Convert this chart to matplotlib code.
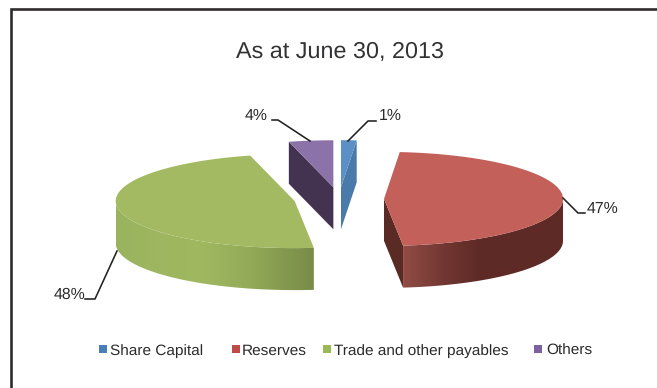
import numpy as np
import matplotlib
matplotlib.use("Agg")
import matplotlib.pyplot as plt
from matplotlib.patches import Polygon, Rectangle
from matplotlib.colors import LinearSegmentedColormap

plt.rcParams['font.family'] = ['Liberation Sans', 'DejaVu Sans']
plt.rcParams['text.hinting'] = 'none'

# Shares of equity and liabilities, per cent
categories = ["Share Capital", "Reserves", "Trade and other payables", "Others"]
shares = [1.4, 46.9, 47.7, 4.0]
title = "As at June 30, 2013"

top_colors = ["#5b8fc6", "#c4605a", "#a3ba62", "#8b72a8"]
wall_colors = ["#4a7aa9", "#5b2a25", "#a3ba62", "#443350"]
legend_colors = ["#4a7ebb", "#be4b48", "#98b954", "#7d60a0"]
TEXT = "#2b2b2d"

W, H = 657, 388
CX, CY = 339.0, 199.0     # pie centre on the canvas
RX, RY = 179.0, 47.0      # ellipse radii of the tilted disc
DEPTH = 42.0              # height of the extruded wall
EXPLODE = 45.0            # radial offset of each slice

fig = plt.figure(figsize=(W / 100, H / 100), dpi=100)
ax = fig.add_axes([0, 0, 1, 1])
ax.set_xlim(0, W)
ax.set_ylim(H, 0)
ax.axis("off")

# Frame of the panel: it runs off the canvas at the right and at the bottom
ax.plot([10.5, 10.5, W + 2], [H + 2, 8.5, 8.5], color="#2e2c2d", lw=1.9,
        solid_joinstyle="miter", zorder=1)


def arc(centre, a0, a1, n=120):
    t = np.radians(np.linspace(a0, a1, n))
    return np.column_stack([centre[0] + RX * np.sin(t), centre[1] - RY * np.cos(t)])


def shaded_wall(points, x_stops, colours, z):
    """Fill a polygon with a horizontal gradient."""
    x0, x1 = x_stops[0], x_stops[-1]
    pos = [(x - x0) / (x1 - x0) for x in x_stops]
    cmap = LinearSegmentedColormap.from_list("wall", list(zip(pos, colours)))
    img = ax.imshow(np.linspace(0, 1, 400)[None, :], cmap=cmap, aspect="auto",
                    extent=[x0, x1, H, 0], zorder=z)
    clip = Polygon(points, closed=True, transform=ax.transData, fc="none", ec="none")
    ax.add_patch(clip)
    img.set_clip_path(clip)


# Slice angles follow the shares, clockwise from twelve o'clock
edges = np.concatenate([[0], np.cumsum(shares)]) / np.sum(shares) * 360.0
down = np.array([0.0, DEPTH])

for i in range(len(shares)):
    a0, a1 = edges[i], edges[i + 1]
    mid = np.radians((a0 + a1) / 2)
    centre = np.array([CX + EXPLODE * np.sin(mid),
                       CY - EXPLODE * RY / RX * np.cos(mid)])
    rim = arc(centre, a0, a1)

    # Radial cut faces seen from the front
    if i == 0:
        face = np.array([rim[-1], centre, centre + down, rim[-1] + down])
        ax.add_patch(Polygon(face, fc=wall_colors[i], ec="none", zorder=2))
    if i == 1:
        face = np.array([centre, rim[-1], rim[-1] + down, centre + down])
        ax.add_patch(Polygon(face, fc="#5a2a25", ec="none", zorder=2))
    if i == 3:
        face = np.array([rim[0], centre, centre + down, rim[0] + down])
        ax.add_patch(Polygon(face, fc=wall_colors[i], ec="none", zorder=2))

    # Outer curved wall on the near half of the disc
    if i == 1:
        front = arc(centre, 90, a1)
        wall = np.vstack([front, (front + down)[::-1]])
        shaded_wall(wall, [centre[0] + 19, 445, 480, centre[0] + RX],
                    ["#914c46", "#713631", "#5e2a26", "#5e2a26"], 3)
    if i == 2:
        front = arc(centre, a0, 270)
        wall = np.vstack([front, (front + down)[::-1]])
        shaded_wall(wall, [centre[0] - RX, 200, 250, centre[0] + 22],
                    ["#9ab35e", "#a0b960", "#93aa58", "#778a47"], 3)

    # Top surface of the slice
    top = np.vstack([centre, rim])
    ax.add_patch(Polygon(top, fc=top_colors[i], ec="none", zorder=4))

# Leader lines and value labels
leaders = [
    ([348, 368, 376], [141, 121, 121], "1%", 379, 116, "left"),
    ([563, 578, 585], [198, 213, 213], "47%", 587, 209, "left"),
    ([117, 95, 85], [251, 299, 299], "48%", 85, 295, "right"),
    ([310, 278, 272], [141, 120, 120], "4%", 268, 116, "right"),
]
for xs, ys, label, tx, ty, ha in leaders:
    ax.plot(xs, ys, color="#222222", lw=1.15, zorder=5)
    ax.text(tx, ty, label, ha=ha, va="center", fontsize=11.4, color=TEXT, zorder=6)

ax.text(340, 52, title, ha="center", va="center", fontsize=16.8, color="#333335")

# Legend entries
legend_x = [99, 232, 323, 534]
legend_text_x = [110, 242, 334, 546]
legend_y = 350
for name, colour, bx, tx in zip(categories, legend_colors, legend_x, legend_text_x):
    ax.add_patch(Rectangle((bx, legend_y - 5), 7.5, 8, fc=colour, ec="none"))
    ax.text(tx, legend_y + 5, name, ha="left", va="baseline", fontsize=11.1, color=TEXT)

fig.savefig("out.png", dpi=100)
